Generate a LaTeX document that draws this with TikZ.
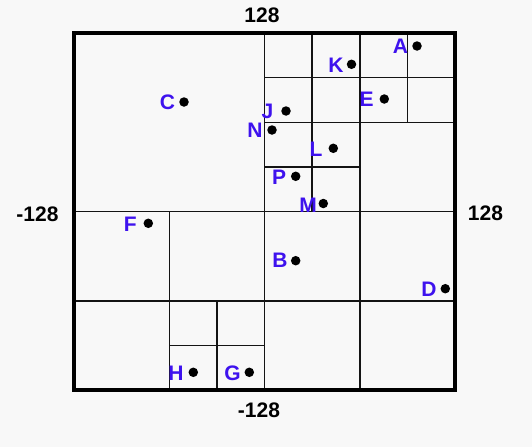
\documentclass[tikz,border=0pt]{standalone}
\usepackage{fontspec}
\setmainfont{Liberation Sans}
\definecolor{lbl}{RGB}{62,18,238}
\definecolor{bg}{RGB}{248,248,248}
\begin{document}
\begin{tikzpicture}[x=1pt,y=-1pt,
 grid/.style={line width=1.5pt, black!92},
 frame/.style={line width=3.2pt, black},
 pt/.style={circle, fill=black, inner sep=0pt, minimum size=9.5pt},
 lab/.style={font=\bfseries\fontsize{21}{21}\selectfont, text=lbl, inner sep=0pt},
 axis/.style={font=\bfseries\fontsize{21}{21}\selectfont, inner sep=0pt}]
\fill[bg] (0,0) rectangle (532,447);
\useasboundingbox (0,0) rectangle (532,447);
% grid
\draw[grid] (264.5,33) -- (264.5,390);
\draw[grid] (74,211.5) -- (455,211.5);
\draw[grid] (359.75,33) -- (359.75,390);
\draw[grid] (264.5,122.25) -- (455,122.25);
\draw[grid] (74,300.75) -- (455,300.75);
\draw[grid] (312.1,33) -- (312.1,211.5);
\draw[grid] (407.4,33) -- (407.4,122.25);
\draw[grid] (264.5,77.6) -- (455,77.6);
\draw[grid] (264.5,166.9) -- (359.75,166.9);
\draw[grid] (169.25,211.5) -- (169.25,390);
\draw[grid] (216.9,300.75) -- (216.9,390);
\draw[grid] (169.25,345.4) -- (264.5,345.4);
\draw[frame] (74,33) rectangle (455,390);
% points
\node[pt] (A) at (417,46) {};   \node[lab] (lA) at (400.5,46.5) {A};
\node[pt] (K) at (351.5,64.3) {}; \node[lab] (lK) at (336,65) {K};
\node[pt] (E) at (384.3,99) {}; \node[lab] (lE) at (366.7,99.5) {E};
\node[pt] (J) at (286,111) {};  \node[lab] (lJ) at (267.5,111.7) {J};
\node[pt] (N) at (272,130) {};  \node[lab] (lN) at (255,130) {N};
\node[pt] (L) at (333.3,148.3) {}; \node[lab] (lL) at (316,149.5) {L};
\node[pt] (P) at (295.7,176.3) {}; \node[lab] (lP) at (279,177) {P};
\node[pt] (M) at (323.3,203.5) {}; \node[lab] (lM) at (308,205) {M};
\node[pt] (C) at (184,102) {};  \node[lab] (lC) at (167.5,102.5) {C};
\node[pt] (B) at (295.7,260.7) {}; \node[lab] (lB) at (280,260.5) {B};
\node[pt] (D) at (445.3,288.7) {}; \node[lab] (lD) at (429,289) {D};
\node[pt] (F) at (148.3,223.3) {}; \node[lab] (lF) at (130.3,223.8) {F};
\node[pt] (H) at (193.3,372.3) {}; \node[lab] (lH) at (176,373) {H};
\node[pt] (G) at (249.3,372.3) {}; \node[lab] (lG) at (232.5,373) {G};
% axis labels
\node[axis] (top) at (262,15) {128};
\node[axis] (left) at (37.5,214) {-128};
\node[axis] (right) at (485.5,213.5) {128};
\node[axis] (bottom) at (259,410) {-128};
\end{tikzpicture}
\end{document}
